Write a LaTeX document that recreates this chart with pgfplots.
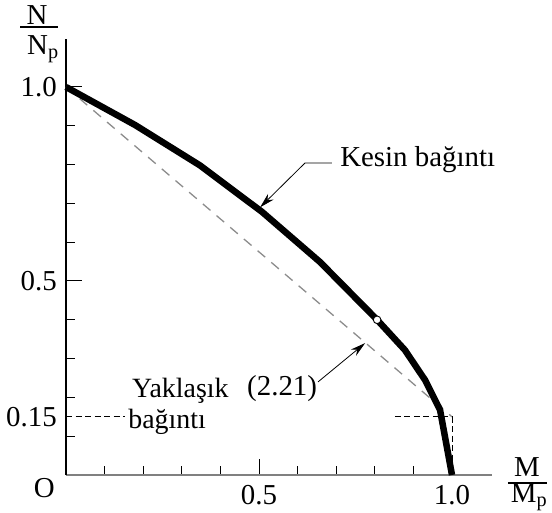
\documentclass[border=0pt]{standalone}
\usepackage{pgfplots}
\pgfplotsset{compat=1.18}
\usepackage{fontspec}
\setmainfont{Liberation Serif}
\usetikzlibrary{arrows.meta}

\newcommand{\lbl}{\fontsize{29}{34}\selectfont}
\newcommand{\lblsmall}{\fontsize{28}{33}\selectfont}

\begin{document}
\lbl
\begin{tikzpicture}
\begin{axis}[
  x=386bp, y=388bp,
  xmin=0, xmax=1.104, ymin=0, ymax=1.124,
  axis lines=left,
  axis line style={-},
  x axis line style={color=gray, line width=1.8bp},
  y axis line style={color=black, line width=1.2bp},
  clip=false,
  tick align=inside,
  major tick length=16bp, minor tick length=9bp,
  tick style={black, line width=1bp},
  xtick={0.5,1.0}, xticklabels={0.5,1.0},
  minor xtick={0.1,0.2,0.3,0.4,0.6,0.7,0.8,0.9},
  ytick={0.5,1.0}, yticklabels={0.5,1.0},
  minor ytick={0.1,0.2,0.3,0.4,0.6,0.7,0.8,0.9},
  extra y ticks={0.15}, extra y tick labels={0.15},
  extra y tick style={major tick length=0pt},
  ticklabel style={font=\lbl, inner sep=0pt},
  xticklabel style={anchor=north, yshift=-10bp},
  yticklabel style={anchor=east, xshift=-9bp},
  /pgf/number format/assume math mode=true,
]
% simplified interaction line (2.21) with the 0.15 cut-off
\addplot[gray!90, line width=1.3bp, dash pattern=on 10bp off 8bp] coordinates {(0,1) (1.0,0.15)};
\addplot[black, line width=1bp, dash pattern=on 6bp off 3.5bp] coordinates {(0,0.15) (0.153,0.15)};
\addplot[black, line width=1bp, dash pattern=on 6bp off 3.5bp] coordinates {(0.852,0.15) (1.0,0.15) (1.0,0)};

% exact interaction curve
\addplot[black, line width=6.5bp, line join=round] coordinates {
  (0,1.0) (0.179,0.902) (0.347,0.798) (0.508,0.678) (0.658,0.549)
  (0.806,0.40) (0.878,0.322) (0.930,0.245) (0.969,0.168) (1.0,0)
};
\addplot[only marks, mark=*, mark size=3.8bp,
  mark options={fill=white, draw=black, line width=0.9bp}] coordinates {(0.806,0.40)};

% annotations
\draw[-{Stealth[length=15bp,width=8bp]}, line width=0.8bp]
  (axis cs:0.689,0.804) -- (axis cs:0.619,0.804) -- (axis cs:0.503,0.690);
\node[anchor=base west, inner sep=0pt] at (axis cs:0.710,0.794) {Kesin bağıntı};

\draw[-{Stealth[length=15bp,width=8bp]}, line width=0.8bp]
  (axis cs:0.653,0.240) -- (axis cs:0.775,0.340);
\node[anchor=base west, inner sep=0pt] at (axis cs:0.469,0.206) {(2.21)};

\node[anchor=base west, inner sep=0pt, font=\lblsmall] at (axis cs:0.171,0.201) {Yaklaşık};
\node[anchor=base west, inner sep=0pt, font=\lblsmall] at (axis cs:0.161,0.121) {bağıntı};

\node[anchor=north east, inner sep=0pt] at (axis cs:-0.0285,-0.0077) {O};

% axis titles written as fractions
\node[anchor=base, inner sep=0pt] at (axis cs:-0.0751,1.160) {N};
\draw[line width=2.2bp] (axis cs:-0.119,1.155) -- (axis cs:-0.0207,1.155);
\node[anchor=base west, inner sep=0pt] at (axis cs:-0.101,1.0825) {N\textsubscript{p}};

\node[anchor=base, inner sep=0pt] at (axis cs:1.194,-0.005) {M};
\draw[line width=2.2bp] (axis cs:1.145,-0.0206) -- (axis cs:1.246,-0.0206);
\node[anchor=base west, inner sep=0pt] at (axis cs:1.152,-0.072) {M\textsubscript{p}};

\coordinate (O) at (axis cs:0,0);
\end{axis}
\pgfresetboundingbox
\path[use as bounding box] ([shift={(-66bp,-38bp)}]O) rectangle ([shift={(486bp,475bp)}]O);
\end{tikzpicture}
\end{document}
